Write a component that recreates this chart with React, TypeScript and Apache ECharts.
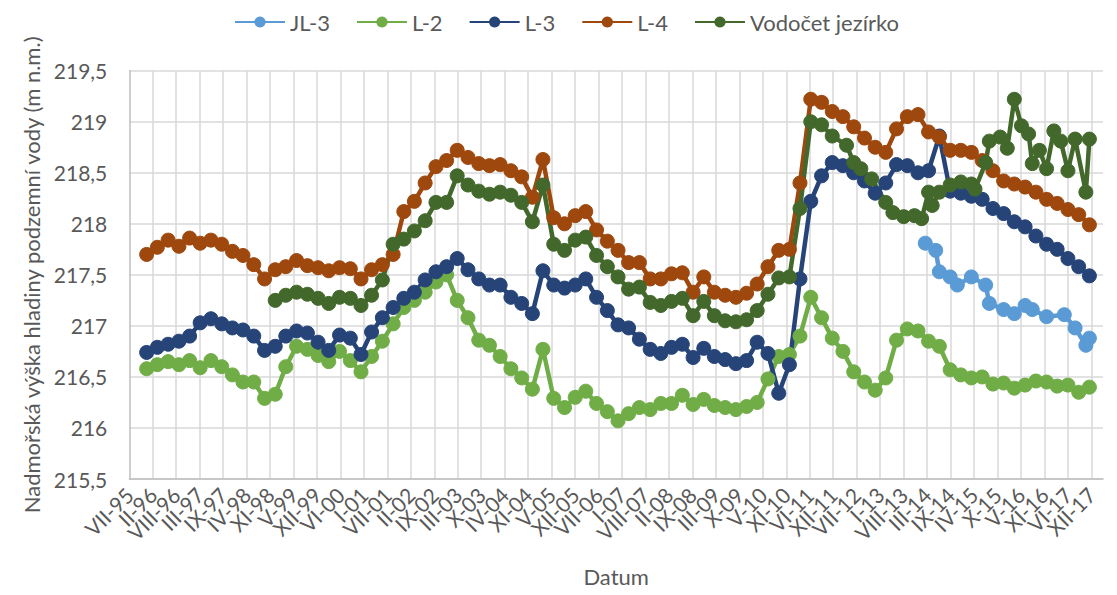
import React, { useEffect, useRef } from "react";
import * as echarts from "echarts";

// Axis tick labels (every 200 days from 20 Jul 1995)
const tickLabels = ["VII-95","II-96","VIII-96","III-97","IX-97","IV-98","XI-98","V-99","XII-99","VI-00","I-01","VII-01","II-02","IX-02","III-03","X-03","IV-04","XI-04","V-05","XII-05","VII-06","I-07","VIII-07","II-08","IX-08","III-09","X-09","V-10","XI-10","VI-11","XII-11","VII-12","I-13","VIII-13","III-14","IX-14","IV-15","X-15","V-16","XI-16","VI-17","XII-17"];

// Measurement dates for L-2, L-3, L-4
const lDates = [
  "1995-12",
  "1996-03","1996-06","1996-09","1996-12",
  "1997-03","1997-06","1997-09","1997-12",
  "1998-03","1998-06","1998-09","1998-12",
  "1999-03","1999-06","1999-09","1999-12",
  "2000-03","2000-06","2000-09","2000-12",
  "2001-03","2001-06","2001-09","2001-12",
  "2002-03","2002-06","2002-09","2002-12",
  "2003-03","2003-06","2003-09","2003-12",
  "2004-03","2004-06","2004-09","2004-12",
  "2005-03","2005-06","2005-09","2005-12",
  "2006-03","2006-06","2006-09","2006-12",
  "2007-03","2007-06","2007-09","2007-12",
  "2008-03","2008-06","2008-09","2008-12",
  "2009-03","2009-06","2009-09","2009-12",
  "2010-03","2010-06","2010-09","2010-12",
  "2011-03","2011-06","2011-09","2011-12",
  "2012-03","2012-06","2012-09","2012-12",
  "2013-03","2013-06","2013-09","2013-12",
  "2014-03","2014-06","2014-09","2014-12",
  "2015-03","2015-06","2015-09","2015-12",
  "2016-03","2016-06","2016-09","2016-12",
  "2017-03","2017-06","2017-09","2017-12"
];

const l2Values = [
  216.58,
  216.62,216.65,216.62,216.66,
  216.59,216.66,216.60,216.52,
  216.45,216.45,216.29,216.33,
  216.60,216.80,216.77,216.71,
  216.65,216.75,216.66,216.55,
  216.70,216.85,217.02,217.18,
  217.25,217.33,217.43,217.50,
  217.25,217.08,216.86,216.81,
  216.70,216.58,216.49,216.38,
  216.77,216.29,216.20,216.30,
  216.36,216.24,216.16,216.07,
  216.14,216.20,216.18,216.24,
  216.24,216.32,216.23,216.28,
  216.22,216.20,216.18,216.21,
  216.25,216.48,216.70,216.72,
  216.90,217.28,217.08,216.88,
  216.75,216.55,216.45,216.37,
  216.49,216.86,216.97,216.95,
  216.85,216.80,216.57,216.52,
  216.49,216.50,216.43,216.44,
  216.39,216.42,216.46,216.45,
  216.41,216.42,216.35,216.40
];

const l3Values = [
  216.74,
  216.79,216.82,216.85,216.90,
  217.03,217.07,217.02,216.98,
  216.96,216.90,216.76,216.80,
  216.90,216.95,216.93,216.84,
  216.76,216.91,216.88,216.72,
  216.94,217.08,217.18,217.27,
  217.33,217.45,217.53,217.58,
  217.66,217.55,217.46,217.40,
  217.40,217.28,217.22,217.12,
  217.54,217.40,217.37,217.40,
  217.46,217.28,217.15,217.01,
  216.98,216.87,216.77,216.73,
  216.79,216.82,216.69,216.78,
  216.70,216.67,216.63,216.66,
  216.84,216.73,216.34,216.62,
  217.46,218.22,218.47,218.60,
  218.57,218.50,218.42,218.30,
  218.40,218.58,218.57,218.50,
  218.52,218.86,218.32,218.30,
  218.27,218.24,218.15,218.10,
  218.02,217.97,217.88,217.80,
  217.75,217.66,217.58,217.49
];

const l4Values = [
  217.70,
  217.77,217.84,217.78,217.86,
  217.81,217.84,217.80,217.73,
  217.69,217.60,217.46,217.55,
  217.58,217.64,217.59,217.57,
  217.54,217.57,217.56,217.46,
  217.55,217.60,217.70,218.12,
  218.22,218.40,218.56,218.62,
  218.72,218.65,218.59,218.57,
  218.58,218.52,218.46,218.26,
  218.63,218.06,218.00,218.08,
  218.12,217.94,217.83,217.74,
  217.62,217.62,217.46,217.46,
  217.51,217.52,217.33,217.48,
  217.33,217.30,217.28,217.32,
  217.41,217.58,217.74,217.75,
  218.40,219.22,219.19,219.10,
  219.05,218.95,218.84,218.75,
  218.70,218.93,219.05,219.07,
  218.90,218.85,218.72,218.72,
  218.70,218.62,218.52,218.42,
  218.39,218.36,218.31,218.24,
  218.20,218.14,218.09,217.99
];

// Vodočet jezírko
const vodDates = [
  "1998-12",
  "1999-03","1999-06","1999-09","1999-12",
  "2000-03","2000-06","2000-09","2000-12",
  "2001-03","2001-06","2001-09","2001-12",
  "2002-03","2002-06","2002-09","2002-12",
  "2003-03","2003-06","2003-09","2003-12",
  "2004-03","2004-06","2004-09","2004-12",
  "2005-03","2005-06","2005-09","2005-12",
  "2006-03","2006-06","2006-09","2006-12",
  "2007-03","2007-06","2007-09","2007-12",
  "2008-03","2008-06","2008-09","2008-12",
  "2009-03","2009-06","2009-09","2009-12",
  "2010-03","2010-06","2010-09","2010-12",
  "2011-03","2011-06","2011-09","2011-12",
  "2012-04","2012-06","2012-08","2012-11",
  "2013-03","2013-05","2013-08","2013-11",
  "2014-01","2014-03","2014-04","2014-06","2014-09","2014-12",
  "2015-03","2015-04","2015-07","2015-08","2015-11",
  "2016-01","2016-03","2016-05","2016-07","2016-08","2016-10","2016-12",
  "2017-02","2017-04","2017-06","2017-08","2017-11","2017-12"
];

const vodValues = [
  217.25,
  217.30,217.33,217.31,217.27,
  217.22,217.28,217.27,217.20,
  217.30,217.45,217.80,217.85,
  217.93,218.03,218.21,218.21,
  218.47,218.38,218.32,218.29,
  218.31,218.28,218.21,218.02,
  218.38,217.80,217.74,217.84,
  217.87,217.69,217.58,217.48,
  217.36,217.38,217.23,217.20,
  217.24,217.27,217.10,217.24,
  217.10,217.05,217.04,217.06,
  217.15,217.31,217.47,217.48,
  218.15,219.00,218.97,218.86,
  218.77,218.60,218.54,218.44,
  218.21,218.11,218.07,218.08,
  218.05,218.31,218.18,218.31,218.38,218.41,
  218.39,218.34,218.60,218.81,218.85,
  218.74,219.22,218.96,218.88,218.59,218.72,218.54,
  218.91,218.81,218.52,218.83,218.31,218.83
];

// JL-3
const jl3Dates = [
  "2014-02","2014-05","2014-06","2014-09","2014-11",
  "2015-03","2015-07","2015-08","2015-12",
  "2016-03","2016-06","2016-08","2016-12",
  "2017-05","2017-08","2017-11","2017-12"
];
const jl3Values = [
  217.81,217.74,217.53,217.48,217.40,
  217.48,217.40,217.22,217.16,
  217.12,217.20,217.16,217.09,
  217.11,216.98,216.81,216.88
];

const AXIS_START = Date.UTC(1995, 6, 20);
const DAY = 86400000;
const AXIS_MAX = 8300;
const toDay = (s: string) => {
  const [y, m] = s.split("-").map(Number);
  return (Date.UTC(y, m - 1, 15) - AXIS_START) / DAY;
};
const pairs = (dates: string[], vals: number[]) => dates.map((d, i) => [toDay(d), vals[i]]);

const FONT = "Lato, 'Open Sans', sans-serif";
const TXT = "#595959";

export default function App() {
  const ref = useRef<HTMLDivElement>(null);
  useEffect(() => {
    if (!ref.current) return;
    const chart = echarts.init(ref.current, undefined, { renderer: "svg" });
    const mk = (name: string, color: string, data: number[][]) => ({
      name,
      type: "line",
      data,
      xAxisIndex: 0,
      symbol: "circle",
      symbolSize: 14,
      showSymbol: true,
      lineStyle: { width: 4.5, color },
      itemStyle: { color, borderColor: color },
      emphasis: { disabled: true },
    });
    chart.setOption({
      animation: false,
      textStyle: { fontFamily: FONT },
      legend: {
        top: 6,
        left: 229,
        itemWidth: 50,
        itemHeight: 14,
        itemGap: 26,
        textStyle: { fontFamily: FONT, fontSize: 22, color: TXT },
        data: ["JL-3", "L-2", "L-3", "L-4", "Vodočet jezírko"],
      },
      grid: { left: 129.3, right: 14, top: 70.7, bottom: 116 },
      xAxis: [
        {
          type: "value",
          position: "bottom",
          min: 0,
          max: AXIS_MAX,
          interval: 200,
          name: "Datum",
          nameLocation: "middle",
          nameGap: 86,
          nameTextStyle: { fontFamily: FONT, fontSize: 22, color: TXT },
          axisLine: { show: true, lineStyle: { color: "#bfbfbf", width: 1.5 } },
          axisTick: { show: false },
          splitLine: { show: true, showMaxLine: false, showMinLine: false, lineStyle: { color: "#d9d9d9", width: 1.5 } },
          axisLabel: { show: false },
        },
        {
          type: "value",
          position: "bottom",
          min: 0,
          max: AXIS_MAX,
          interval: 100,
          axisLine: { show: false },
          axisTick: { show: false },
          splitLine: { show: false },
          axisLabel: {
            rotate: 45,
            margin: 12,
            hideOverlap: false,
            fontFamily: FONT,
            fontSize: 21,
            color: TXT,
            formatter: (v: number) => {
              const i = Math.round(v / 200);
              return Math.abs(v - i * 200) < 1e-6 && i < tickLabels.length ? tickLabels[i] : "";
            },
          },
        },
      ],
      yAxis: {
        type: "value",
        min: 215.5,
        max: 219.5,
        interval: 0.5,
        name: "Nadmořská výška hladiny podzemní vody (m n.m.)",
        nameLocation: "middle",
        nameGap: 86,
        nameTextStyle: { fontFamily: FONT, fontSize: 22, color: TXT },
        axisLine: { show: true, lineStyle: { color: "#bfbfbf", width: 1.5 } },
        axisTick: { show: false },
        splitLine: { show: true, lineStyle: { color: "#d9d9d9", width: 1.5 } },
        axisLabel: {
          margin: 22,
          fontFamily: FONT,
          fontSize: 21,
          color: TXT,
          formatter: (v: number) => String(Math.round(v * 10) / 10).replace(".", ","),
        },
      },
      series: [
        mk("JL-3", "#5B9BD5", pairs(jl3Dates, jl3Values)),
        mk("L-2", "#70AD47", pairs(lDates, l2Values)),
        mk("L-3", "#264478", pairs(lDates, l3Values)),
        mk("L-4", "#9E480E", pairs(lDates, l4Values)),
        mk("Vodočet jezírko", "#43682B", pairs(vodDates, vodValues)),
      ],
    });
    return () => chart.dispose();
  }, []);
  return (
    <div
      ref={ref}
      style={{ position: "fixed", left: 0, top: 0, width: 1117, height: 595, background: "#fff" }}
    />
  );
}
